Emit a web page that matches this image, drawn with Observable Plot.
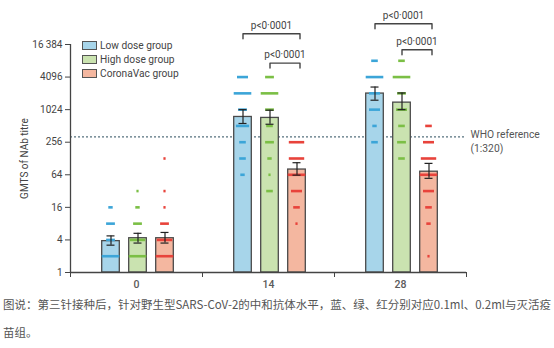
<!DOCTYPE html>
<html>
<head>
<meta charset="utf-8">
<script src="https://cdn.jsdelivr.net/npm/d3@7"></script>
<script src="https://cdn.jsdelivr.net/npm/@observablehq/plot@0.6"></script>
<style>
  body { margin: 0; background: #fff; }
  #wrap { position: relative; width: 554px; }
  .legend { position: absolute; left: 82px; top: 38px; font-family: Roboto, sans-serif; font-size: 10.2px; color: #444; }
  .legend .row { display: flex; align-items: center; height: 14.2px; }
  .legend .sw { width: 13px; height: 7px; border: 1px solid #555; margin-right: 3px; }
  .caption { font-family: "Noto Sans CJK SC", sans-serif; font-size: 11.5px; color: #555; line-height: 28px; padding-left: 3px; white-space: nowrap; }
</style>
</head>
<body>
<div id="wrap">
  <div id="chart"></div>
  <div class="legend" id="legend"></div>
  <div class="caption">图说：第三针接种后，针对野生型SARS-CoV-2的中和抗体水平，蓝、绿、红分别对应0.1ml、0.2ml与灭活疫<br>苗组。</div>
</div>
<script>
// ---------- data ----------
const days = ["0", "14", "28"];
const groups = ["Low dose group", "High dose group", "CoronaVac group"];

// geometric mean titres per day
const gmtLow = [3.8, 750, 2030];
const gmtHigh = [4.3, 720, 1380];
const gmtCorona = [4.3, 80, 73];
// 95% CI bounds
const ciLowLo = [3.2, 568, 1530];
const ciLowHi = [4.75, 1024, 2680];
const ciHighLo = [3.5, 550, 1024];
const ciHighHi = [5.3, 1000, 2080];
const ciCoronaLo = [3.5, 63, 55];
const ciCoronaHi = [5.5, 107, 104];

// individual titres [titre, number of participants]
const ptsLow = [
  [[16, 2], [8, 4], [4, 4], [2, 8]],
  [[4096, 5], [2048, 8], [1024, 4], [512, 6], [256, 3], [128, 3], [64, 2]],
  [[8192, 3], [4096, 8], [2048, 5], [1024, 5], [512, 2], [256, 3]]
];
const ptsHigh = [
  [[32, 1], [16, 2], [8, 4], [4, 7], [2, 8]],
  [[4096, 4], [2048, 8], [1024, 4], [512, 3], [256, 4], [128, 2], [64, 1], [32, 3]],
  [[8192, 3], [4096, 8], [2048, 4], [1024, 5], [512, 3], [256, 4], [128, 3]]
];
const ptsCorona = [
  [[128, 1], [32, 1], [16, 1], [8, 4], [4, 7], [2, 8]],
  [[256, 7], [128, 7], [64, 8], [32, 5], [16, 3], [8, 1]],
  [[512, 3], [256, 5], [128, 7], [64, 8], [32, 5], [16, 3], [8, 2], [2, 1]]
];

const yTicks = [1, 4, 16, 64, 256, 1024, 4096, 16384];
const whoRef = 320;
const whoLabel = "WHO reference\n(1:320)";
const pLabel = "p<0·0001";
// comparisons: day, group a, group b
const comparisons = [
  { day: "14", a: "Low dose group", b: "CoronaVac group" },
  { day: "14", a: "High dose group", b: "CoronaVac group" },
  { day: "28", a: "Low dose group", b: "CoronaVac group" },
  { day: "28", a: "High dose group", b: "CoronaVac group" }
];

// ---------- styles / layout ----------
const barFill = ["#a7d5ea", "#cae3b0", "#f4b7a0"];
const dotColor = ["#3ca5d8", "#7bbf45", "#e8433b"];
const bracketLevel = [25900, 7430, 39500, 13100];
const PX = 1 / 132;          // x units per pixel (each day spans 1 unit = 132px)
const STEP = 27 * PX;        // distance between bars
const HALF = 8.8 * PX;       // half bar width

const gmts = [gmtLow, gmtHigh, gmtCorona];
const los = [ciLowLo, ciHighLo, ciCoronaLo];
const his = [ciLowHi, ciHighHi, ciCoronaHi];
const pts = [ptsLow, ptsHigh, ptsCorona];

const cx = (day, group) => days.indexOf(day) + 0.5 + (groups.indexOf(group) - 1) * STEP + 1.5 * PX;

const bars = [];
const dashes = [];
groups.forEach((g, gi) => days.forEach((d, di) => {
  bars.push({ day: d, group: g, gmt: gmts[gi][di], lo: los[gi][di], hi: his[gi][di], fill: barFill[gi] });
  pts[gi][di].forEach(([t, n]) => dashes.push({ day: d, group: g, titre: t, n, color: dotColor[gi] }));
}));

const drop = Math.pow(2, -5 / 16.3);
const bracketPts = [];
const bracketText = [];
comparisons.forEach((c, i) => {
  const xa = cx(c.day, c.a), xb = cx(c.day, c.b) + 3 * PX, lv = bracketLevel[i];
  bracketPts.push({ id: i, x: xa, y: lv * drop }, { id: i, x: xa, y: lv }, { id: i, x: xb, y: lv }, { id: i, x: xb, y: lv * drop });
  bracketText.push({ x: (xa + xb) / 2, y: lv, text: pLabel });
});

const chart = Plot.plot({
  width: 554,
  height: 290,
  marginLeft: 70,
  marginRight: 88,
  marginTop: 44,
  marginBottom: 18,
  style: { fontFamily: "Roboto, sans-serif", fontSize: "10px", color: "#444", background: "#fff", overflow: "visible" },
  x: { domain: [0, 3] },
  y: { type: "log", base: 2, domain: [1, 16384] },
  color: { type: "identity" },
  marks: [
    Plot.ruleY([whoRef], { x1: 0, x2: 3, stroke: "#56717e", strokeWidth: 1.2, strokeDasharray: "2,2" }),
    Plot.text([whoLabel], { frameAnchor: "right", y: whoRef, dx: 4, dy: 4, textAnchor: "start", lineAnchor: "middle", lineHeight: 1.35, fill: "#555", fontSize: 10.3 }),
    Plot.rectY(bars, {
      x1: d => cx(d.day, d.group) - HALF, x2: d => cx(d.day, d.group) + HALF,
      y1: 1, y2: "gmt", fill: "fill", stroke: "#4a4a4a", strokeWidth: 1.3
    }),
    Plot.ruleY(dashes, {
      y: "titre",
      x1: d => cx(d.day, d.group) - d.n * 1.1 * PX, x2: d => cx(d.day, d.group) + d.n * 1.1 * PX,
      stroke: "color", strokeWidth: 2.6
    }),
    Plot.ruleX(bars, { x: d => cx(d.day, d.group), y1: "lo", y2: "hi", stroke: "#222", strokeWidth: 1.2 }),
    Plot.ruleY(bars, { y: "lo", x1: d => cx(d.day, d.group) - 4 * PX, x2: d => cx(d.day, d.group) + 4 * PX, stroke: "#222", strokeWidth: 1.2 }),
    Plot.ruleY(bars, { y: "hi", x1: d => cx(d.day, d.group) - 4 * PX, x2: d => cx(d.day, d.group) + 4 * PX, stroke: "#222", strokeWidth: 1.2 }),
    Plot.line(bracketPts, { x: "x", y: "y", z: "id", stroke: "#444", strokeWidth: 1.4 }),
    Plot.text(bracketText, { x: "x", y: "y", text: "text", dy: -5, lineAnchor: "bottom", fill: "#444", fontSize: 10 }),
    Plot.ruleX([0], { y1: 1, y2: 16384, stroke: "#444", strokeWidth: 1.3 }),
    Plot.ruleY([1], { x1: 0, x2: 3, stroke: "#444", strokeWidth: 1.3 }),
    Plot.axisY({
      ticks: yTicks, tickSize: 5, tickPadding: 3,
      tickFormat: d => d >= 10000 ? String(d).replace(/(\d{3})$/, "\u2009$1") : String(d),
      label: "GMTS of NAb titre", labelAnchor: "center", labelOffset: 50, labelArrow: false
    }),
    Plot.axisX({ ticks: [0, 1, 2, 3], tickSize: 5, tickFormat: () => "", label: null }),
    Plot.axisX({ ticks: [0.5, 1.5, 2.5], tickSize: 0, tickPadding: 8, tickFormat: d => days[Math.floor(d)], label: null, fontWeight: 500, fill: "#5a5a5a", fontSize: 10.5 })
  ]
});
document.getElementById("chart").appendChild(chart);

const legend = document.getElementById("legend");
groups.forEach((g, i) => {
  const row = document.createElement("div");
  row.className = "row";
  const sw = document.createElement("span");
  sw.className = "sw";
  sw.style.background = barFill[i];
  const t = document.createElement("span");
  t.textContent = g;
  row.appendChild(sw); row.appendChild(t);
  legend.appendChild(row);
});
</script>
</body>
</html>
